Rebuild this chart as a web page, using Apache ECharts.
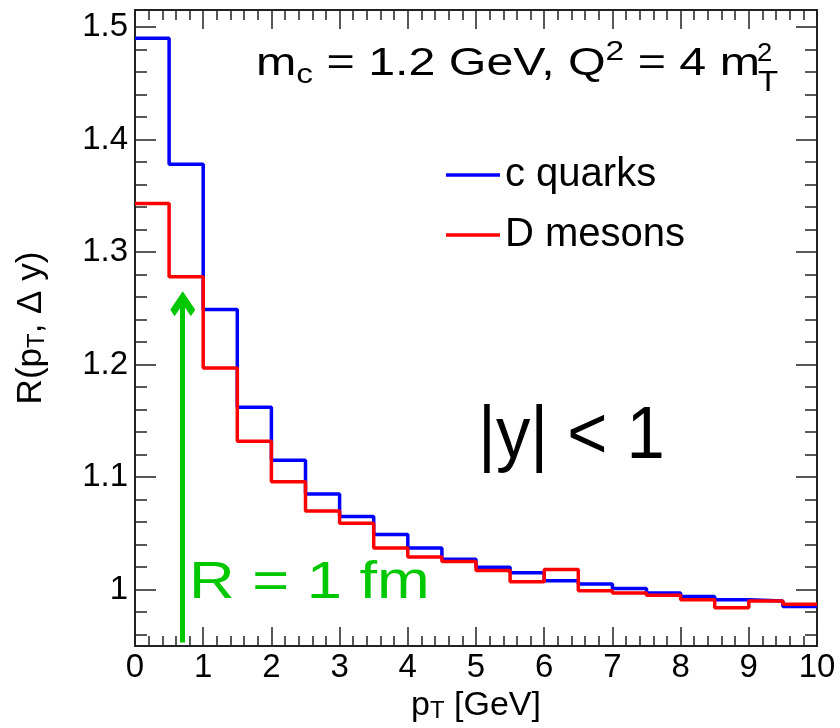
<!DOCTYPE html>
<html>
<head>
<meta charset="utf-8">
<script src="https://cdn.jsdelivr.net/npm/echarts@6/dist/echarts.min.js"></script>
<style>
html, body { margin: 0; padding: 0; background: #fff; }
#chart { width: 840px; height: 728px; }
</style>
</head>
<body>
<div id="chart"></div>
<script>
// histogram bins, width 0.5 GeV
const binEdges = [0, 0.5, 1, 1.5, 2, 2.5, 3, 3.5, 4, 4.5, 5, 5.5, 6, 6.5, 7, 7.5, 8, 8.5, 9, 9.5, 10];
const cQuarks = [1.490, 1.378, 1.249, 1.162, 1.115, 1.085, 1.065, 1.049, 1.037, 1.027,
                 1.020, 1.015, 1.008, 1.005, 1.001, 0.997, 0.994, 0.991, 0.990, 0.985];
const dMesons = [1.343, 1.278, 1.197, 1.132, 1.096, 1.070, 1.059, 1.037, 1.029, 1.025,
                 1.017, 1.007, 1.018, 0.999, 0.997, 0.995, 0.991, 0.984, 0.990, 0.987];

const yMajor = [1, 1.1, 1.2, 1.3, 1.4, 1.5];
const yMinor = [0.96, 0.98, 1.02, 1.04, 1.06, 1.08, 1.12, 1.14, 1.16, 1.18, 1.22, 1.24, 1.26, 1.28,
                1.32, 1.34, 1.36, 1.38, 1.42, 1.44, 1.46, 1.48];
const yRange = [0.95, 1.515];
const xRange = [0, 10];

// green arrow (R = 1 fm)
const arrowX = 0.7;
const arrowY = [0.953, 1.254];

const FONT = '"Liberation Sans", Arial, Helvetica, sans-serif';
const AX = '#222';

function histPoints(vals) {
  const pts = vals.map((v, i) => [binEdges[i], v]);
  pts.push([binEdges[vals.length], vals[vals.length - 1]]);
  return pts;
}

function yAxisDef(pos, ticks, len, labels) {
  return {
    type: 'value', position: pos, min: yRange[0], max: yRange[1],
    axisLine: { show: true, onZero: false, lineStyle: { color: AX, width: 2 } },
    axisTick: { show: true, inside: true, length: len, customValues: ticks, lineStyle: { color: AX, width: 1.5 } },
    axisLabel: labels ? { show: true, customValues: ticks, margin: 7, color: '#000', fontSize: 33, fontFamily: FONT } : { show: false },
    splitLine: { show: false }
  };
}

const chart = echarts.init(document.getElementById('chart'));
const option = {
  backgroundColor: '#fff',
  animation: false,
  grid: { left: 135, right: 23, top: 10, bottom: 82 },
  legend: {
    data: ['c quarks', 'D mesons'],
    orient: 'vertical',
    left: 441, top: 150,
    icon: 'rect',
    itemWidth: 54, itemHeight: 3.5, itemGap: 20,
    textStyle: { fontSize: 40, fontFamily: FONT, color: '#000' }
  },
  xAxis: [{
    type: 'value', position: 'bottom', min: xRange[0], max: xRange[1], interval: 1,
    name: '{a|p}{b|T}{a| [GeV]}', nameLocation: 'middle', nameGap: 42,
    nameTextStyle: { rich: {
      a: { fontSize: 34, fontFamily: FONT, color: '#000' },
      b: { fontSize: 24, fontFamily: FONT, color: '#000', verticalAlign: 'bottom', lineHeight: 20 }
    } },
    axisLine: { onZero: false, lineStyle: { color: AX, width: 2 } },
    axisTick: { inside: true, length: 19, lineStyle: { color: AX, width: 1.5 } },
    minorTick: { show: true, splitNumber: 5, length: 10, lineStyle: { color: AX, width: 1.5 } },
    axisLabel: { margin: 5, color: '#000', fontSize: 33, fontFamily: FONT },
    splitLine: { show: false }
  }, {
    type: 'value', position: 'top', min: xRange[0], max: xRange[1], interval: 1,
    axisLine: { onZero: false, lineStyle: { color: AX, width: 2 } },
    axisTick: { inside: true, length: 19, lineStyle: { color: AX, width: 1.5 } },
    minorTick: { show: true, splitNumber: 5, length: 10, lineStyle: { color: AX, width: 1.5 } },
    axisLabel: { show: false },
    splitLine: { show: false }
  }],
  yAxis: [
    Object.assign(yAxisDef('left', yMajor, 21, true), {
      name: '{a|R(p}{b|T}{a|, \u0394 y)}', nameLocation: 'middle', nameRotate: 90, nameGap: 86,
      nameTextStyle: { rich: {
        a: { fontSize: 35, fontFamily: FONT, color: '#000' },
        b: { fontSize: 24, fontFamily: FONT, color: '#000', verticalAlign: 'bottom', lineHeight: 20 }
      } }
    }),
    yAxisDef('left', yMinor, 12, false),
    yAxisDef('right', yMajor, 21, false),
    yAxisDef('right', yMinor, 12, false)
  ],
  series: [{
    name: 'c quarks', type: 'line', step: 'end', symbol: 'none',
    xAxisIndex: 0, yAxisIndex: 0,
    lineStyle: { color: '#0000ff', width: 3.5 }, itemStyle: { color: '#0000ff' },
    data: histPoints(cQuarks)
  }, {
    name: 'D mesons', type: 'line', step: 'end', symbol: 'none',
    xAxisIndex: 0, yAxisIndex: 0,
    lineStyle: { color: '#ff0000', width: 3.5 }, itemStyle: { color: '#ff0000' },
    data: histPoints(dMesons),
    markLine: {
      silent: true, animation: false,
      symbol: ['none', 'path://M0,10 L10,0 L20,10 L16.5,13.5 L10,7 L3.5,13.5 Z'],
      symbolSize: [25, 25],
      symbolRotate: [0, 0],
      label: { show: false },
      lineStyle: { color: '#00c800', width: 5, type: 'solid' },
      itemStyle: { color: '#00c800' },
      data: [[{ coord: [arrowX, arrowY[0]] }, { coord: [arrowX, arrowY[1]] }]]
    }
  }],
  graphic: [{
    type: 'text', x: 256, y: 64, scaleX: 1.24,
    style: {
      text: '{a|m}{b|c}{a| = 1.2 GeV, Q}{c|2}{a| = 4 m}',
      verticalAlign: 'middle',
      rich: {
        a: { fontSize: 39, fontFamily: FONT, fill: '#000', lineHeight: 50 },
        b: { fontSize: 27, fontFamily: FONT, fill: '#000', lineHeight: 24, verticalAlign: 'bottom' },
        c: { fontSize: 27, fontFamily: FONT, fill: '#000', lineHeight: 10, verticalAlign: 'top' }
      }
    }
  }, {
    type: 'text', x: 757, y: 54, scaleX: 1.1,
    style: { text: '2', fontSize: 25, fontFamily: FONT, fill: '#000', verticalAlign: 'middle' }
  }, {
    type: 'text', x: 758, y: 83, scaleX: 1.1,
    style: { text: 'T', fontSize: 30, fontFamily: FONT, fill: '#000', verticalAlign: 'middle' }
  }, {
    type: 'text', x: 478, y: 438, scaleX: 0.93,
    style: { text: '|y| < 1', fontSize: 74, fontFamily: FONT, fill: '#000', verticalAlign: 'middle' }
  }, {
    type: 'text', x: 189, y: 584, scaleX: 1.24,
    style: { text: 'R = 1 fm', fontSize: 51, fontFamily: FONT, fill: '#00c800', verticalAlign: 'middle' }
  }]
};
chart.setOption(option);
</script>
</body>
</html>
